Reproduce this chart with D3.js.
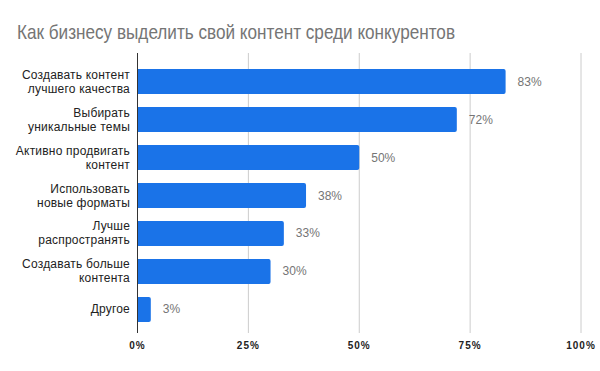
<!DOCTYPE html>
<html>
<head>
<meta charset="utf-8">
<script src="https://cdn.jsdelivr.net/npm/d3@7"></script>
<style>
body { margin: 0; background: #fff; }
text { font-family: "Liberation Sans", Arial, sans-serif; }
</style>
</head>
<body>
<div id="chart"></div>
<script>
var width = 600,
	height = 371;

var categories = [
	["Создавать контент", "лучшего качества"],
	["Выбирать", "уникальные темы"],
	["Активно продвигать", "контент"],
	["Использовать", "новые форматы"],
	["Лучше", "распространять"],
	["Создавать больше", "контента"],
	["Другое"]
];
var values = [83, 72, 50, 38, 33, 30, 3];
var ticks = [0, 25, 50, 75, 100];

var plotTop = 53,
	plotBottom = 333;

var svg = d3.select("#chart")
	.append("svg")
		.attr("width", width)
		.attr("height", height)
		.style("background-color", "#fff");

// title is set in a narrow face in the original, squeeze it to the same width
svg.append("text")
	.attr("x", 17)
	.attr("y", 38.5)
	.attr("font-size", 21)
	.attr("fill", "#757575")
	.attr("textLength", 438)
	.attr("lengthAdjust", "spacingAndGlyphs")
	.text("Как бизнесу выделить свой контент среди конкурентов");

var x = d3.scaleLinear()
	.domain([0, 100])
	.range([137.5, 581]);

var y = d3.scaleBand()
	.domain(d3.range(values.length))
	.range([69, 322])
	.paddingInner(0.342)
	.paddingOuter(0);

// grid
svg.selectAll(".grid")
	.data(ticks.slice(1))
	.enter()
	.append("line")
		.attr("x1", function(d){ return x(d); })
		.attr("x2", function(d){ return x(d); })
		.attr("y1", plotTop)
		.attr("y2", plotBottom)
		.attr("stroke", "#cccccc")
		.attr("stroke-width", 1);

// bars, slightly rounded at the right end
svg.selectAll(".bar")
	.data(values)
	.enter()
	.append("path")
		.attr("fill", "#1a73e8")
		.attr("d", function(d, i){
			var x0 = x(0), x1 = x(d), y0 = y(i), h = y.bandwidth(), r = 2;
			return "M" + x0 + "," + y0 +
				"H" + (x1 - r) +
				"Q" + x1 + "," + y0 + " " + x1 + "," + (y0 + r) +
				"V" + (y0 + h - r) +
				"Q" + x1 + "," + (y0 + h) + " " + (x1 - r) + "," + (y0 + h) +
				"H" + x0 + "Z";
		});

// zero axis
svg.append("line")
	.attr("x1", x(0))
	.attr("x2", x(0))
	.attr("y1", plotTop)
	.attr("y2", plotBottom)
	.attr("stroke", "#333")
	.attr("stroke-width", 1);

// value labels
svg.selectAll(".val")
	.data(values)
	.enter()
	.append("text")
		.attr("x", function(d){ return x(d) + 12; })
		.attr("y", function(d, i){ return y(i) + y.bandwidth() / 2 + 4; })
		.attr("font-size", 12)
		.attr("fill", "#757575")
		.text(function(d){ return d + "%"; });

// category labels
var cat = svg.selectAll(".cat")
	.data(categories)
	.enter()
	.append("text")
		.attr("text-anchor", "end")
		.attr("font-size", 12)
		.attr("letter-spacing", 0.2)
		.attr("fill", "#222");

cat.selectAll("tspan")
	.data(function(d, i){
		return d.map(function(line, j){ return {line: line, j: j, n: d.length, i: i}; });
	})
	.enter()
	.append("tspan")
		.attr("x", 130)
		.attr("y", function(d){
			var c = y(d.i) + y.bandwidth() / 2;
			return c + 4 + (d.j - (d.n - 1) / 2) * 14;
		})
		.text(function(d){ return d.line; });

// x tick labels
svg.selectAll(".tick")
	.data(ticks)
	.enter()
	.append("text")
		.attr("x", function(d){ return x(d); })
		.attr("y", 349)
		.attr("text-anchor", "middle")
		.attr("font-size", 10)
		.attr("font-weight", "bold")
		.attr("letter-spacing", 1)
		.attr("fill", "#222")
		.text(function(d){ return d + "%"; });
</script>
</body>
</html>
